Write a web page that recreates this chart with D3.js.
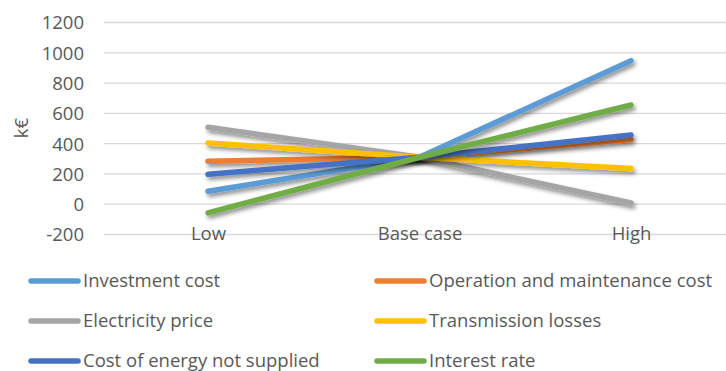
<!DOCTYPE html>
<html><head><meta charset="utf-8">
<script src="https://cdn.jsdelivr.net/npm/d3@7"></script>
<style>body{margin:0;background:#fff}svg{display:block}text{font-family:"Open Sans",sans-serif;fill:#595959}</style>
</head><body><svg id="c" width="726" height="371"></svg>
<script>
const categories = ["Low", "Base case", "High"];
const seriesNames = ["Investment cost", "Operation and maintenance cost", "Electricity price", "Transmission losses", "Cost of energy not supplied", "Interest rate"];
const seriesColors = ["#5B9BD5", "#ED7D31", "#A5A5A5", "#FFC000", "#4472C4", "#70AD47"];
const investment = [86, 310, 948];
const operation = [284, 310, 427];
const electricity = [508, 310, 8];
const transmission = [405, 310, 236];
const ens = [198, 310, 457];
const interest = [-57, 310, 655];
const yTicks = [-200, 0, 200, 400, 600, 800, 1000, 1200];
const yLabel = "k€";

const values = [investment, operation, electricity, transmission, ens, interest];
const FS = "18.5px";
const svg = d3.select("#c");
const defs = svg.append("defs");
const f = defs.append("filter").attr("id","sh").attr("x","-20%").attr("y","-50%").attr("width","140%").attr("height","200%");
f.append("feDropShadow").attr("dx",2).attr("dy",3).attr("stdDeviation",2).attr("flood-color","#000").attr("flood-opacity",0.45);

const x = d3.scalePoint().domain(categories).range([208, 631]);
const y = d3.scaleLinear().domain([-200, 1200]).range([234.5, 22.5]);

const g = svg.append("g");
g.selectAll("line.grid").data(yTicks).join("line")
  .attr("x1", 104).attr("x2", 737)
  .attr("y1", d => y(d)).attr("y2", d => y(d))
  .attr("stroke", "#d9d9d9").attr("stroke-width", 1.3);

const yAxis = d3.axisLeft(y).tickValues(yTicks).tickFormat(d => String(d)).tickSize(0).tickPadding(0);
const ya = svg.append("g").attr("transform","translate(84,0)").call(yAxis);
ya.select(".domain").remove();
ya.selectAll("text").style("font-size",FS).attr("dy","0.35em").attr("fill","#595959");

svg.append("text").attr("transform","translate(28,128) rotate(-90)")
  .attr("text-anchor","middle").style("font-size",FS).text(yLabel);

const line = d3.line().x((d,i)=>x(categories[i])).y(d=>y(d));
svg.append("g").selectAll("path").data(values).join("path")
  .attr("d", d => line(d)).attr("fill","none")
  .attr("stroke", (d,i)=>seriesColors[i]).attr("stroke-width",5.5)
  .attr("stroke-linecap","round").attr("stroke-linejoin","round")
  .attr("filter","url(#sh)");

const xAxis = d3.axisBottom(x).tickSize(0).tickPadding(0);
const xa = svg.append("g").attr("transform","translate(0,226)").call(xAxis);
xa.select(".domain").remove();
xa.selectAll("text").style("font-size",FS).attr("dy","0.75em").attr("fill","#595959");

const leg = svg.append("g");
const lx = [29, 375], ly = [281, 321, 361];
seriesNames.forEach((n,i)=>{
  const cx = lx[i%2], cy = ly[Math.floor(i/2)];
  leg.append("line").attr("x1",cx+2).attr("x2",cx+49).attr("y1",cy).attr("y2",cy)
    .attr("stroke",seriesColors[i]).attr("stroke-width",5.5).attr("stroke-linecap","round");
  leg.append("text").attr("x",cx+54).attr("y",cy).attr("dy","0.35em").style("font-size",FS).text(n);
});
</script></body></html>
